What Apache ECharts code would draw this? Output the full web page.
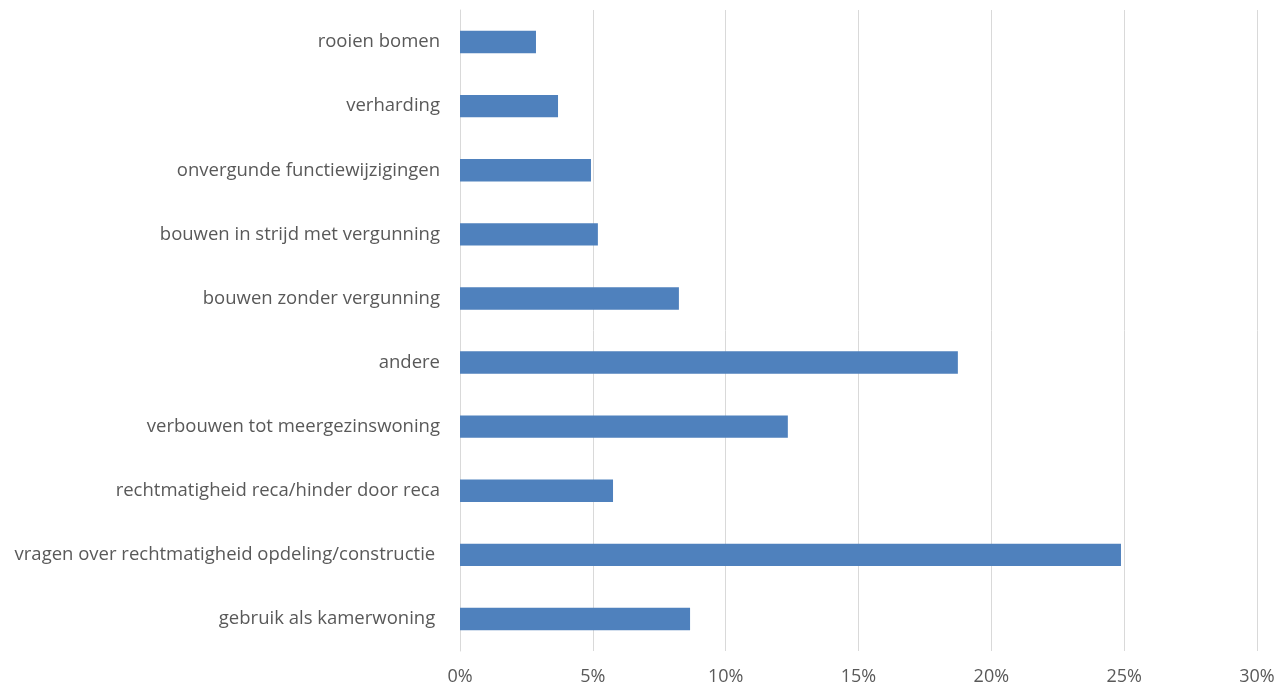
<!DOCTYPE html>
<html><head><meta charset="utf-8">
<script src="https://cdn.jsdelivr.net/npm/echarts@6/dist/echarts.min.js"></script>
<style>html,body{margin:0;padding:0;background:#fff}#c{width:1280px;height:689px}</style>
</head><body><div id="c"></div>
<script>
// bottom to top
const categories = [
  "gebruik als kamerwoning ",
  "vragen over rechtmatigheid opdeling/constructie ",
  "rechtmatigheid reca/hinder door reca",
  "verbouwen tot meergezinswoning",
  "andere",
  "bouwen zonder vergunning",
  "bouwen in strijd met vergunning",
  "onvergunde functiewijzigingen",
  "verharding",
  "rooien bomen"
];
const values = [8.66, 24.88, 5.76, 12.34, 18.74, 8.24, 5.19, 4.93, 3.69, 2.86];
const xTicks = { min: 0, max: 30, interval: 5 };

const chart = echarts.init(document.getElementById('c'));
chart.setOption({
  animation: false,
  grid: { left: 460, right: 23, top: 10, bottom: 38, containLabel: false },
  xAxis: {
    type: 'value', min: xTicks.min, max: xTicks.max, interval: xTicks.interval,
    axisLine: { show: false }, axisTick: { show: false },
    splitLine: { lineStyle: { color: '#d9d9d9', width: 1 } },
    axisLabel: { formatter: v => v + '%', color: '#595959', fontSize: 18, fontFamily: 'Open Sans', margin: 17 }
  },
  yAxis: {
    type: 'category', data: categories,
    axisLine: { show: true, lineStyle: { color: '#d9d9d9' } }, axisTick: { show: false },
    axisLabel: { color: '#595959', fontSize: 18.5, fontFamily: 'Open Sans', margin: 20, padding: [3, 0, 0, 0] }
  },
  series: [{
    type: 'bar', data: values, barWidth: '35%',
    itemStyle: { color: '#4f81bd' }
  }]
});
</script></body></html>
